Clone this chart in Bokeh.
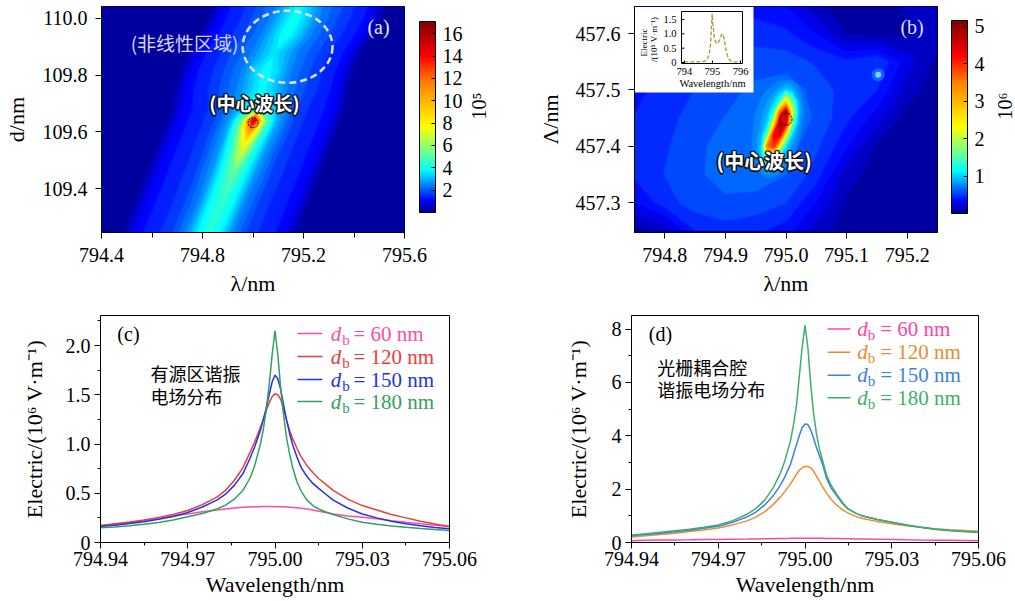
import numpy as np
from bokeh.plotting import figure
from bokeh.models import (Range1d, FixedTicker, PrintfTickFormatter, CustomJSTickFormatter,
                          LinearColorMapper, ColorBar, Label, LinearAxis)
from bokeh.layouts import column, row
from bokeh.embed import file_html
from bokeh.resources import INLINE
from bokeh.core.properties import value

SERIF = "Liberation Serif"
CJK = "Noto Sans CJK SC"

# ======================= DATA =======================
# (a) |E| (x1e5 V/m), read on a grid sheared along the resonance ridge
a_d = [109.24, 109.35, 109.45, 109.52, 109.57, 109.61, 109.64, 109.68,
       109.75, 109.82, 109.88, 109.94, 110.00, 110.05]
a_ridge_wl = [794.825, 794.875, 794.92, 794.95, 794.972, 794.99, 795.003, 795.02,
              795.035, 795.055, 795.085, 795.13, 795.165, 795.185]
a_offset = [-0.9, -0.34, -0.29, -0.22, -0.15, -0.09, -0.045, 0.0,
            0.045, 0.09, 0.15, 0.22, 0.29, 0.34, 0.9]
a_E = [
    [0.2, 0.3, 1.1, 1.35, 1.75, 2.5, 3.7, 4.3, 3.7, 2.5, 1.75, 1.35, 1.1, 0.3, 0.2],
    [0.2, 0.3, 1.1, 1.35, 1.75, 2.5, 3.8, 4.5, 3.8, 2.5, 1.75, 1.35, 1.1, 0.3, 0.2],
    [0.2, 0.3, 1.1, 1.35, 1.8, 2.6, 4.0, 5.2, 3.9, 2.6, 1.8, 1.35, 1.1, 0.3, 0.2],
    [0.2, 0.3, 1.1, 1.35, 1.8, 2.7, 4.3, 6.8, 4.2, 2.7, 1.8, 1.35, 1.1, 0.3, 0.2],
    [0.2, 0.3, 1.1, 1.35, 1.85, 2.8, 4.8, 8.5, 4.6, 2.8, 1.85, 1.35, 1.1, 0.3, 0.2],
    [0.2, 0.3, 1.1, 1.35, 1.85, 2.9, 5.5, 11.5, 5.2, 2.9, 1.85, 1.35, 1.1, 0.3, 0.2],
    [0.2, 0.3, 1.1, 1.35, 1.85, 2.9, 5.5, 15.5, 5.5, 2.9, 1.85, 1.35, 1.1, 0.3, 0.2],
    [0.2, 0.3, 1.1, 1.35, 1.85, 2.7, 3.8, 5.0, 3.8, 2.7, 1.85, 1.35, 1.1, 0.3, 0.2],
    [0.2, 0.3, 1.1, 1.45, 1.95, 2.5, 3.2, 3.8, 3.2, 2.5, 1.95, 1.5, 1.1, 0.3, 0.2],
    [0.2, 0.3, 1.1, 1.45, 1.95, 2.5, 3.3, 3.9, 3.3, 2.5, 1.95, 1.5, 1.1, 0.3, 0.2],
    [0.2, 0.3, 1.1, 1.45, 1.95, 2.4, 3.0, 3.5, 3.0, 2.4, 1.95, 1.5, 1.1, 0.3, 0.2],
    [0.2, 0.3, 1.1, 1.45, 1.95, 2.5, 3.3, 4.0, 3.3, 2.5, 1.95, 1.5, 1.1, 0.3, 0.2],
    [0.2, 0.3, 1.1, 1.45, 1.95, 2.5, 3.3, 4.0, 3.3, 2.5, 1.95, 1.5, 1.1, 0.3, 0.2],
    [0.2, 0.3, 1.1, 1.45, 1.95, 2.4, 3.1, 3.8, 3.1, 2.4, 1.95, 1.5, 1.1, 0.3, 0.2],
]
a_cbar_ticks = [2, 4, 6, 8, 10, 12, 14, 16]
a_cmax = 17.1
a_center_wl = [795.0]
a_center_d = [109.632]

# (b) |E| (x1e6 V/m): broad field on a regular grid + fine grid around the hot ridge
b_wl = [794.75, 794.80, 794.85, 794.90, 794.95, 795.00, 795.05, 795.10, 795.15, 795.20, 795.25]
b_L = [457.25, 457.30, 457.35, 457.40, 457.45, 457.50, 457.55, 457.60, 457.65]
b_E = [
    [0.05, 0.15, 0.40, 0.45, 0.42, 0.35, 0.15, 0.05, 0.05, 0.05, 0.05],
    [0.30, 0.45, 0.55, 0.58, 0.56, 0.50, 0.30, 0.08, 0.05, 0.05, 0.05],
    [0.42, 0.50, 0.58, 0.63, 0.65, 0.60, 0.45, 0.15, 0.05, 0.05, 0.05],
    [0.40, 0.48, 0.58, 0.62, 0.68, 0.65, 0.52, 0.32, 0.08, 0.05, 0.05],
    [0.40, 0.45, 0.55, 0.60, 0.65, 0.68, 0.58, 0.42, 0.25, 0.05, 0.05],
    [0.38, 0.42, 0.50, 0.56, 0.62, 0.66, 0.56, 0.45, 0.40, 0.15, 0.05],
    [0.35, 0.38, 0.45, 0.50, 0.55, 0.55, 0.48, 0.42, 0.50, 0.25, 0.06],
    [0.35, 0.35, 0.38, 0.42, 0.45, 0.42, 0.30, 0.10, 0.06, 0.08, 0.15],
    [0.35, 0.35, 0.35, 0.35, 0.35, 0.30, 0.12, 0.05, 0.05, 0.12, 0.20],
]
b_fine_wl = [794.93, 794.94, 794.95, 794.96, 794.97, 794.98, 794.99,
             795.00, 795.01, 795.02, 795.03, 795.04, 795.05]
b_fine_L = [457.34, 457.36, 457.38, 457.40, 457.42, 457.44, 457.46, 457.48, 457.50, 457.52]
b_fine_E = [
    [0.55, 0.58, 0.60, 0.62, 0.64, 0.64, 0.62, 0.60, 0.58, 0.55, 0.52, 0.50, 0.50],
    [0.58, 0.62, 0.68, 0.78, 0.90, 0.85, 0.75, 0.68, 0.62, 0.58, 0.55, 0.52, 0.50],
    [0.60, 0.65, 0.75, 1.00, 1.90, 1.60, 1.00, 0.80, 0.70, 0.62, 0.58, 0.54, 0.50],
    [0.60, 0.66, 0.78, 1.00, 3.60, 4.00, 2.20, 1.05, 0.80, 0.68, 0.60, 0.55, 0.50],
    [0.60, 0.66, 0.75, 0.90, 1.70, 4.30, 4.40, 2.20, 1.00, 0.75, 0.62, 0.56, 0.50],
    [0.60, 0.65, 0.72, 0.82, 1.05, 2.30, 4.90, 4.30, 1.60, 0.85, 0.65, 0.58, 0.50],
    [0.58, 0.62, 0.70, 0.78, 0.90, 1.30, 3.60, 4.90, 2.20, 0.95, 0.68, 0.58, 0.50],
    [0.55, 0.60, 0.65, 0.72, 0.80, 0.95, 1.30, 2.60, 1.60, 0.90, 0.66, 0.56, 0.50],
    [0.55, 0.58, 0.62, 0.66, 0.70, 0.75, 0.85, 1.00, 0.90, 0.75, 0.62, 0.55, 0.50],
    [0.52, 0.55, 0.58, 0.60, 0.62, 0.64, 0.66, 0.66, 0.65, 0.62, 0.58, 0.54, 0.50],
]
b_spot_wl = [795.152]
b_spot_L = [457.527]
b_cbar_ticks = [1, 2, 3, 4, 5]
b_cmax = 5.16
b_center_wl = [795.0]
b_center_L = [457.448]

# (b) inset spectrum (x1e5 V/m)
inset_wl = [794.0, 794.4, 794.7, 794.8, 794.88, 794.93, 794.97, 794.99, 795.02, 795.07, 795.13,
            795.19, 795.26, 795.32, 795.36, 795.41, 795.48, 795.56, 795.65, 795.8, 796.0]
inset_E = [0.02, 0.02, 0.04, 0.08, 0.25, 0.6, 1.3, 1.7, 1.35, 0.85, 0.68,
           0.66, 0.8, 0.97, 1.0, 0.85, 0.45, 0.15, 0.05, 0.02, 0.02]
inset_xticks = [794, 795, 796]
inset_yticks = [0, 0.5, 1.0, 1.5]

# (c) active-region resonance field (x1e6 V/m)
c_wl = [794.94, 794.945, 794.95, 794.955, 794.96, 794.965, 794.97, 794.975, 794.98, 794.983,
        794.986, 794.989, 794.9915, 794.993, 794.995, 794.996, 794.997, 794.998, 794.999, 795.0,
        795.001, 795.002, 795.003, 795.004, 795.005, 795.006, 795.0075, 795.009, 795.011, 795.013,
        795.015, 795.0175, 795.02, 795.025, 795.03, 795.035, 795.04, 795.045, 795.05, 795.055, 795.06]
c_E60 = [0.169, 0.186, 0.203, 0.222, 0.245, 0.268, 0.29, 0.312, 0.33, 0.34,
         0.35, 0.357, 0.361, 0.363, 0.364, 0.365, 0.365, 0.365, 0.365, 0.364,
         0.364, 0.363, 0.362, 0.36, 0.358, 0.356, 0.352, 0.347, 0.339, 0.33,
         0.318, 0.305, 0.29, 0.27, 0.257, 0.24, 0.222, 0.205, 0.19, 0.176, 0.162]
c_E120 = [0.173, 0.19, 0.207, 0.228, 0.255, 0.285, 0.325, 0.385, 0.46, 0.53,
          0.63, 0.76, 0.92, 1.02, 1.17, 1.25, 1.34, 1.42, 1.48, 1.51,
          1.50, 1.45, 1.35, 1.24, 1.14, 1.06, 0.96, 0.87, 0.78, 0.71,
          0.65, 0.59, 0.53, 0.44, 0.375, 0.33, 0.285, 0.25, 0.215, 0.188, 0.162]
c_E150 = [0.162, 0.176, 0.192, 0.21, 0.235, 0.265, 0.305, 0.36, 0.43, 0.49,
          0.58, 0.70, 0.86, 0.97, 1.14, 1.25, 1.37, 1.50, 1.63, 1.70,
          1.66, 1.55, 1.39, 1.24, 1.11, 1.0, 0.87, 0.76, 0.67, 0.6,
          0.55, 0.49, 0.43, 0.35, 0.29, 0.25, 0.215, 0.19, 0.17, 0.153, 0.139]
c_E180 = [0.149, 0.158, 0.17, 0.185, 0.203, 0.228, 0.262, 0.295, 0.34, 0.38,
          0.44, 0.53, 0.66, 0.78, 1.0, 1.15, 1.35, 1.6, 1.9, 2.15,
          1.9, 1.55, 1.28, 1.06, 0.9, 0.77, 0.62, 0.52, 0.43, 0.375,
          0.34, 0.31, 0.285, 0.24, 0.206, 0.185, 0.168, 0.154, 0.142, 0.131, 0.122]

# (d) grating-coupled-cavity resonance field (x1e6 V/m)
d_wl = c_wl
d_E60 = [0.07, 0.08, 0.09, 0.095, 0.1, 0.11, 0.115, 0.125, 0.13, 0.135,
         0.14, 0.145, 0.15, 0.152, 0.155, 0.157, 0.158, 0.159, 0.16, 0.16,
         0.16, 0.16, 0.159, 0.158, 0.157, 0.155, 0.152, 0.15, 0.146, 0.142,
         0.138, 0.132, 0.127, 0.118, 0.11, 0.1, 0.093, 0.087, 0.08, 0.075, 0.07]
d_E120 = [0.21, 0.25, 0.3, 0.35, 0.41, 0.47, 0.54, 0.66, 0.81, 0.95,
          1.15, 1.42, 1.71, 1.9, 2.2, 2.38, 2.55, 2.7, 2.8, 2.85,
          2.85, 2.8, 2.67, 2.48, 2.3, 2.1, 1.85, 1.62, 1.4, 1.22,
          1.1, 0.98, 0.9, 0.79, 0.7, 0.63, 0.57, 0.52, 0.48, 0.45, 0.42]
d_E150 = [0.25, 0.3, 0.35, 0.40, 0.46, 0.53, 0.61, 0.76, 0.96, 1.14,
          1.4, 1.75, 2.15, 2.45, 2.94, 3.3, 3.65, 4.0, 4.3, 4.44,
          4.42, 4.22, 3.9, 3.55, 3.25, 2.95, 2.4, 2.05, 1.75, 1.45,
          1.25, 1.1, 0.99, 0.86, 0.76, 0.66, 0.57, 0.5, 0.45, 0.41, 0.38]
d_E180 = [0.28, 0.33, 0.38, 0.44, 0.5, 0.57, 0.66, 0.82, 1.06, 1.27,
          1.58, 2.05, 2.6, 3.05, 3.82, 4.4, 5.1, 6.2, 7.3, 8.15,
          7.3, 5.9, 4.8, 4.05, 3.5, 3.1, 2.5, 2.15, 1.8, 1.5,
          1.25, 1.1, 0.99, 0.86, 0.76, 0.66, 0.57, 0.5, 0.45, 0.41, 0.38]

db_labels = ["60", "120", "150", "180"]
c_colors = ["#ff4da6", "#ee3b3b", "#2233ee", "#33a060"]
d_colors = ["#ff44aa", "#f28a30", "#3b82e0", "#3caf6a"]

# ======================= STYLE HELPERS =======================
CMAP_STOPS = [(0.0, (0, 0, 143)), (0.06, (0, 0, 255)), (0.22, (0, 255, 255)),
              (0.33, (128, 255, 128)), (0.45, (255, 255, 0)), (0.68, (255, 128, 0)),
              (0.82, (255, 0, 0)), (1.0, (128, 0, 0))]
NAVY = "#00008f"


def cmap(v):
    v = min(max(float(v), 0.0), 1.0)
    for (v0, c0), (v1, c1) in zip(CMAP_STOPS[:-1], CMAP_STOPS[1:]):
        if v <= v1:
            t = (v - v0) / (v1 - v0)
            return "#%02x%02x%02x" % tuple(int(round(a + (b - a) * t)) for a, b in zip(c0, c1))
    return "#800000"


def make_fig(xr, yr, fw, fh, left, right, top, bottom, bg="white"):
    p = figure(x_range=Range1d(*xr), y_range=Range1d(*yr), frame_width=fw, frame_height=fh,
               min_border_left=left, min_border_right=right, min_border_top=top,
               min_border_bottom=bottom, output_backend="svg", toolbar_location=None,
               background_fill_color=bg, border_fill_color="white")
    p.grid.visible = False
    p.outline_line_color = "black"
    p.outline_line_alpha = 1.0
    p.outline_line_width = 1
    for ax in (p.xaxis[0], p.yaxis[0]):
        ax.axis_line_color = "black"
        ax.major_tick_line_color = "black"
        ax.minor_tick_line_color = "black"
        ax.major_tick_in = 0
        ax.major_tick_out = 6
        ax.minor_tick_in = 0
        ax.minor_tick_out = 3
        ax.major_label_text_font = SERIF
        ax.major_label_text_font_size = "20px"
        ax.major_label_text_color = "black"
        ax.axis_label_text_font = SERIF
        ax.axis_label_text_font_size = "22px"
        ax.axis_label_text_font_style = "normal"
        ax.axis_label_text_color = "black"
    return p


def lab(p, x, y, text, size="20px", color="black", font=SERIF, style="normal", align="left",
        baseline="middle", angle=0.0, xo=0, yo=0):
    p.add_layout(Label(x=x, y=y, text=text, text_font=font,
                       text_font_size=size, text_color=color, text_font_style=style,
                       text_align=align, text_baseline=baseline, angle=angle,
                       x_offset=xo, y_offset=yo))


def outlined(p, x, y, text, size):
    for dx, dy in [(-1.5, 0), (1.5, 0), (0, -1.5), (0, 1.5), (-1, -1), (1, 1), (-1, 1), (1, -1)]:
        lab(p, x, y, text, size=size, color="#111111", font=CJK, style="bold", align="center", xo=dx, yo=dy)
    lab(p, x, y, text, size=size, color="white", font=CJK, style="bold", align="center")


def filled(p, x, y, z, levels, vmax):
    levels = list(levels)
    fcols = [cmap(0.5 * (levels[i] + levels[i + 1]) / vmax) for i in range(len(levels) - 1)]
    lcols = [cmap(lv / vmax) for lv in levels]
    return p.contour(x, y, z, levels, fill_color=fcols, line_color=lcols, line_width=1.3)


def colorbar(p, vmax, ticks, pad, height, title, title_standoff):
    mapper = LinearColorMapper(palette=[cmap(v) for v in np.linspace(0, 1, 256)], low=0, high=vmax)
    cb = ColorBar(color_mapper=mapper, ticker=FixedTicker(ticks=ticks), width=16, height=height,
                  location="top_left", margin=0, padding=pad,
                  major_label_text_font=SERIF, major_label_text_font_size="20px",
                  major_label_text_color="black", major_tick_in=4, major_tick_out=0,
                  major_tick_line_color="black", bar_line_color="black",
                  background_fill_alpha=0, border_line_color=None, label_standoff=7)
    p.add_layout(cb, "right")
    ax = LinearAxis(ticker=FixedTicker(ticks=[]), axis_label=title, axis_line_color=None,
                    major_tick_line_color=None, minor_tick_line_color=None,
                    major_tick_out=0, minor_tick_out=0, major_label_standoff=0,
                    axis_label_text_font=SERIF, axis_label_text_font_size="20px",
                    axis_label_text_font_style="normal", axis_label_text_color="black",
                    axis_label_standoff=title_standoff)
    try:
        ax.axis_label_orientation = np.pi / 2
    except Exception:
        pass
    p.add_layout(ax, "right")


# ======================= (a) =======================
pa = make_fig((794.4, 795.6), (109.245, 110.042), 303, 226, 99, 126, 6, 69, bg=NAVY)
XA = np.array(a_ridge_wl)[:, None] + np.array(a_offset)[None, :]
YA = np.repeat(np.array(a_d)[:, None], len(a_offset), axis=1)
filled(pa, XA, YA, np.array(a_E), np.linspace(0, a_cmax, 58), a_cmax)
pa.ellipse(x=[795.137], y=[109.90], width=0.356, height=0.254, fill_color=None,
           line_color="#dcdcee", line_width=2.6, line_dash="7 4")
pa.scatter(a_center_wl, a_center_d, marker="circle", size=10, fill_color=None,
           line_color="black", line_width=1, line_dash="2 1")
pa.xaxis.ticker = FixedTicker(ticks=[794.4, 794.8, 795.2, 795.6], minor_ticks=[794.6, 795.0, 795.4])
pa.yaxis.ticker = FixedTicker(ticks=[109.4, 109.6, 109.8, 110.0])
pa.xaxis.formatter = PrintfTickFormatter(format="%.1f")
pa.yaxis.formatter = PrintfTickFormatter(format="%.1f")
pa.xaxis.minor_tick_out = 5
pa.xaxis.major_label_standoff = 9
pa.yaxis.major_label_standoff = 8
pa.xaxis.axis_label = "λ/nm"
pa.yaxis.axis_label = "d/nm"
pa.xaxis.axis_label_standoff = 6
pa.yaxis.axis_label_standoff = 11
lab(pa, 795.497, 109.968, "(a)", color="#e6e6f2", align="center")
lab(pa, 794.729, 109.915, "(非线性区域)", size="19px", color="#d4d4ea", font=CJK, align="center")
outlined(pa, 795.006, 109.703, "(中心波长)", "19px")
colorbar(pa, a_cmax, a_cbar_ticks, 15, 191, "10⁵", -2)

# ======================= (b) =======================
pb = make_fig((794.75, 795.25), (457.247, 457.648), 303, 226, 104, 80, 6, 69, bg=NAVY)
LEV_B = np.linspace(0, b_cmax, 53)
filled(pb, np.array(b_wl), np.array(b_L), np.array(b_E), LEV_B, b_cmax)
filled(pb, np.array(b_fine_wl), np.array(b_fine_L), np.array(b_fine_E),
       [lv for lv in LEV_B if lv >= 0.69], b_cmax)
pb.scatter(b_spot_wl, b_spot_L, marker="circle", size=13, fill_color="#1f6dff", line_color=None, alpha=0.8)
pb.scatter(b_spot_wl, b_spot_L, marker="circle", size=6, fill_color="#62dcff", line_color=None)
pb.scatter(b_center_wl, b_center_L, marker="circle", size=12, fill_color=None,
           line_color="black", line_width=1, line_dash="2 1")
pb.xaxis.ticker = FixedTicker(ticks=[794.8, 794.9, 795.0, 795.1, 795.2])
pb.yaxis.ticker = FixedTicker(ticks=[457.3, 457.4, 457.5, 457.6])
pb.xaxis.formatter = PrintfTickFormatter(format="%.1f")
pb.yaxis.formatter = PrintfTickFormatter(format="%.1f")
pb.xaxis.major_label_standoff = 9
pb.yaxis.major_label_standoff = 8
pb.xaxis.axis_label = "λ/nm"
pb.yaxis.axis_label = "Λ/nm"
pb.xaxis.axis_label_standoff = 6
pb.yaxis.axis_label_standoff = 10
lab(pb, 795.208, 457.611, "(b)", color="#dcdcf2", align="center")
outlined(pb, 794.964, 457.374, "(中心波长)", "20px")
colorbar(pb, b_cmax, b_cbar_ticks, 14, 193, "10⁶", 3)

# inset inside (b), drawn through its own extra ranges
FW_B, FH_B = 303, 226
in_l, in_r, in_t, in_b = 47, 108, 5, 57
in_x0, in_x1, in_y0, in_y1 = 793.9, 796.07, -0.035, 1.78
sxi = (in_x1 - in_x0) / (in_r - in_l)
syi = (in_y1 - in_y0) / (in_b - in_t)
ixr = Range1d(in_x0 - in_l * sxi, in_x0 + (FW_B - in_l) * sxi)
iyr = Range1d(in_y0 - (FH_B - in_b) * syi, in_y1 + in_t * syi)
pb.extra_x_ranges = {"ix": ixr}
pb.extra_y_ranges = {"iy": iyr}


def IX(px):
    return ixr.start + px * sxi


def IY(py):
    return iyr.end - py * syi


RN = dict(x_range_name="ix", y_range_name="iy")
pb.quad(left=[IX(0.5)], right=[IX(119)], top=[IY(0.5)], bottom=[IY(86)], fill_color="white",
        line_color=None, **RN)
pb.quad(left=[in_x0], right=[in_x1], bottom=[in_y0], top=[in_y1], fill_color=None,
        line_color="black", line_width=1, **RN)
pb.line(inset_wl, inset_E, color="#a9a044", line_width=1.4, line_dash="4 2", **RN)
pb.segment(x0=inset_xticks, x1=inset_xticks, y0=[in_y0] * 3, y1=[in_y0 + 3 * syi] * 3,
           line_color="black", **RN)
pb.segment(x0=[in_x0] * 4, x1=[in_x0 + 3 * sxi] * 4, y0=inset_yticks, y1=inset_yticks,
           line_color="black", **RN)
pb.text(x=inset_xticks, y=[IY(65)] * 3, text=["794", "795", "796"], text_align="center",
        text_baseline="middle", text_font=value(SERIF), text_font_size="10.5px", **RN)
pb.text(x=[IX(42)] * 4, y=inset_yticks, text=["0", "0.5", "1.0", "1.5"], text_align="right",
        text_baseline="middle", text_font=value(SERIF), text_font_size="10.5px", **RN)
pb.text(x=[IX(78)], y=[IY(76.5)], text=["Wavelength/nm"], text_align="center",
        text_baseline="middle", text_font=value(SERIF), text_font_size="10.5px", **RN)
pb.text(x=[IX(9), IX(19)], y=[IY(36), IY(33)], text=["Electric", "/(10⁵ V·m⁻¹)"],
        angle=np.pi / 2, text_align="center", text_baseline="middle",
        text_font=value(SERIF), text_font_size="9px", **RN)

# ======================= (c) =======================
pc = make_fig((794.94, 795.06), (0, 2.305), 349, 227, 100, 79, 14, 58)
for ys, col in zip([c_E60, c_E120, c_E150, c_E180], c_colors):
    pc.line(c_wl, ys, color=col, line_width=1.5)
pc.xaxis.ticker = FixedTicker(ticks=[794.94, 794.97, 795.0, 795.03, 795.06],
                              minor_ticks=[794.955, 794.985, 795.015, 795.045])
pc.yaxis.ticker = FixedTicker(ticks=[0, 0.5, 1.0, 1.5, 2.0], minor_ticks=[0.25, 0.75, 1.25, 1.75, 2.25])
pc.xaxis.formatter = PrintfTickFormatter(format="%.2f")
pc.yaxis.formatter = CustomJSTickFormatter(code="return tick == 0 ? '0' : tick.toFixed(1);")
pc.xaxis.axis_label = "Wavelength/nm"
pc.yaxis.axis_label = "Electric/(10⁶ V·m⁻¹)"
pc.xaxis.major_label_standoff = 3
pc.xaxis.axis_label_standoff = 3
pc.yaxis.major_label_standoff = 4
pc.yaxis.axis_label_standoff = 16
lab(pc, 794.9458, 2.122, "(c)")
lab(pc, 794.9572, 1.726, "有源区谐振", size="18px", font=CJK)
lab(pc, 794.9572, 1.492, "电场分布", size="18px", font=CJK)
for yv, col, lb in zip([2.122, 1.888, 1.655, 1.431], c_colors, db_labels):
    pc.line([795.0077, 795.0163], [yv, yv], color=col, line_width=1.5)
    lab(pc, 795.0192, yv, "d", size="21px", color=col, style="italic")
    lab(pc, 795.0231, yv, "b", size="15px", color=col, yo=-6)
    lab(pc, 795.0270, yv, "= " + lb + " nm", size="21px", color=col)

# ======================= (d) =======================
pd_ = make_fig((794.94, 795.06), (0, 8.51), 347, 227, 103, 35, 14, 58)
for ys, col in zip([d_E60, d_E120, d_E150, d_E180], d_colors):
    pd_.line(d_wl, ys, color=col, line_width=1.5)
pd_.xaxis.ticker = FixedTicker(ticks=[794.94, 794.97, 795.0, 795.03, 795.06],
                               minor_ticks=[794.955, 794.985, 795.015, 795.045])
pd_.yaxis.ticker = FixedTicker(ticks=[0, 2, 4, 6, 8], minor_ticks=[1, 3, 5, 7])
pd_.xaxis.formatter = PrintfTickFormatter(format="%.2f")
pd_.xaxis.axis_label = "Wavelength/nm"
pd_.yaxis.axis_label = "Electric/(10⁶ V·m⁻¹)"
pd_.xaxis.major_label_standoff = 3
pd_.xaxis.axis_label_standoff = 3
pd_.yaxis.major_label_standoff = 4
pd_.yaxis.axis_label_standoff = 18
lab(pd_, 794.946, 7.83, "(d)")
lab(pd_, 794.9489, 6.57, "光栅耦合腔", size="18px", font=CJK)
lab(pd_, 794.9489, 5.76, "谐振电场分布", size="18px", font=CJK)
for yv, col, lb in zip([8.0, 7.13, 6.27, 5.43], d_colors, db_labels):
    pd_.line([795.0078, 795.0157], [yv, yv], color=col, line_width=1.5)
    lab(pd_, 795.0181, yv, "d", size="21px", color=col, style="italic")
    lab(pd_, 795.0217, yv, "b", size="15px", color=col, yo=-6)
    lab(pd_, 795.0260, yv, "= " + lb + " nm", size="21px", color=col)

layout = column(row(pa, pb), row(pc, pd_))
open("out.html", "w").write(file_html(layout, INLINE))
